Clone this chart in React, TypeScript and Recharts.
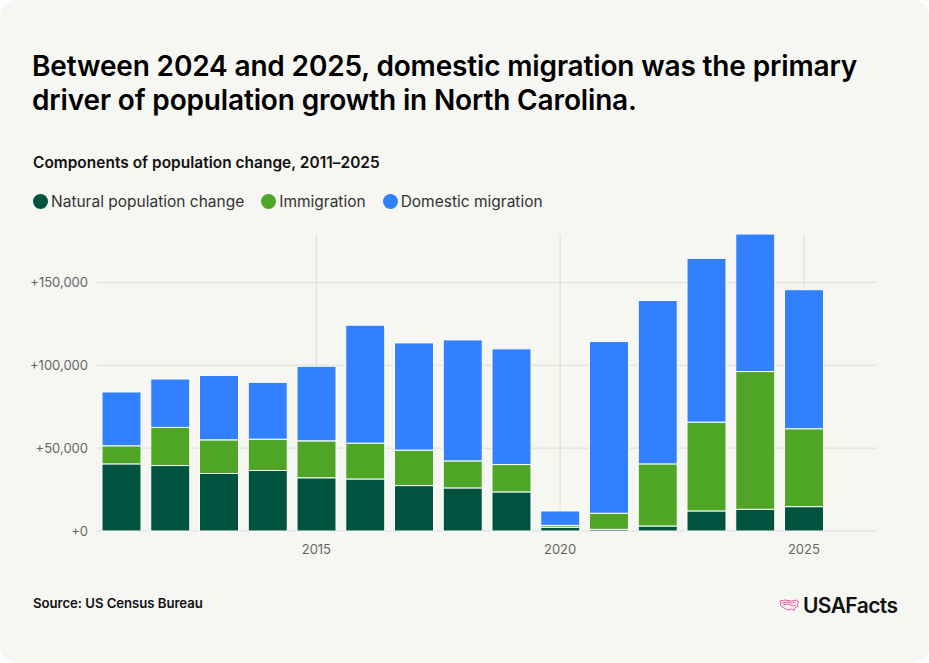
import { BarChart, Bar, XAxis, YAxis, CartesianGrid } from "recharts";

// Components of NC population change by year
const years = [2011, 2012, 2013, 2014, 2015, 2016, 2017, 2018, 2019, 2020, 2021, 2022, 2023, 2024, 2025];
const naturalChange = [40500, 39500, 34700, 36500, 32100, 31400, 27400, 26000, 23600, 2300, 1000, 3000, 12100, 13100, 14700];
const immigration = [10900, 23000, 20300, 18900, 22300, 21600, 21400, 16300, 16500, 1100, 9700, 37500, 53600, 83100, 47000];
const domesticMigration = [32500, 29200, 38900, 34300, 45000, 71200, 64700, 73000, 69800, 8700, 103600, 98600, 98800, 83000, 83900];

const yTicks = [0, 50000, 100000, 150000];
const xTicks = [2015, 2020, 2025];

const COLORS = {
  natural: "#00533f",
  immigration: "#4fa626",
  domestic: "#3380ff",
};

const FONT = "Inter, 'Noto Sans', sans-serif";

const data = years.map((year, i) => ({
  year,
  natural: naturalChange[i],
  immigration: immigration[i],
  domestic: domesticMigration[i],
}));

const legendItems = [
  { label: "Natural population change", color: COLORS.natural },
  { label: "Immigration", color: COLORS.immigration },
  { label: "Domestic migration", color: COLORS.domestic },
];

function formatTick(v: number) {
  return `+${v.toLocaleString("en-US")}`;
}

function Logo() {
  return (
    <div style={{ position: "absolute", left: 779, top: 593, display: "flex", alignItems: "center", gap: 2 }}>
      <svg width="22" height="16" viewBox="0 0 22 16" fill="none" stroke="#ec5fa0" strokeWidth={1}>
        <path d="M1 3 L6 2 L12 3 L17 2 L20 4 L18 6 L19 8 L16 10 L15 13 L13 11 L9 12 L5 10 L2 8 Z" />
        <path d="M3 5 L8 4 L13 5 L17 4" />
        <path d="M4 7 L9 6 L14 8 L17 7" />
      </svg>
      <span style={{ fontFamily: FONT, fontWeight: 600, fontSize: 21, color: "#111", letterSpacing: -0.6 }}>
        USAFacts
      </span>
    </div>
  );
}

export default function App() {
  return (
    <div
      style={{
        position: "absolute",
        left: 0,
        top: 0,
        width: 929,
        height: 663,
        background: "#ffffff",
      }}
    >
      <div
        style={{
          position: "absolute",
          left: 0,
          top: 0,
          width: 929,
          height: 663,
          background: "#f6f6f2",
          borderRadius: 16,
          fontFamily: FONT,
          overflow: "hidden",
        }}
      >
        <div
          style={{
            position: "absolute",
            left: 32,
            top: 49,
            width: 890,
            fontSize: 28,
            fontWeight: 600,
            lineHeight: "34px",
            letterSpacing: -0.15,
            color: "#000",
          }}
        >
          Between 2024 and 2025, domestic migration was the primary
          <br />
          driver of population growth in North Carolina.
        </div>

        <div
          style={{
            position: "absolute",
            left: 33,
            top: 153,
            fontSize: 15.4,
            fontWeight: 600,
            color: "#111",
            letterSpacing: 0.05,
          }}
        >
          Components of population change, 2011–2025
        </div>

        <div style={{ position: "absolute", left: 33, top: 192, display: "flex", alignItems: "center" }}>
          {legendItems.map((item) => (
            <div key={item.label} style={{ display: "flex", alignItems: "center", marginRight: 17 }}>
              <span
                style={{
                  width: 15,
                  height: 15,
                  borderRadius: "50%",
                  background: item.color,
                  display: "inline-block",
                  marginRight: 3,
                }}
              />
              <span style={{ fontSize: 15.5, color: "#333", letterSpacing: 0 }}>{item.label}</span>
            </div>
          ))}
        </div>

        <div style={{ position: "absolute", left: 0, top: 220 }}>
          <BarChart
            width={929}
            height={350}
            data={data}
            margin={{ top: 14, right: 52, bottom: 9, left: 0 }}
            barSize={39}
          >
            <CartesianGrid stroke="#dcdcd8" strokeWidth={1} syncWithTicks />
            <XAxis
              dataKey="year"
              type="number"
              domain={[2010.5, 2026.5]}
              ticks={xTicks}
              axisLine={false}
              tickLine={false}
              tickSize={0}
              tickMargin={14}
              height={30}
              tick={{ fill: "#666", fontSize: 13, fontFamily: FONT }}
            />
            <YAxis
              domain={[0, "dataMax"]}
              ticks={yTicks}
              width={97}
              axisLine={false}
              tickLine={false}
              tickSize={0}
              tickMargin={9}
              tickFormatter={formatTick}
              tick={{ fill: "#666", fontSize: 13, fontFamily: FONT }}
            />
            <Bar dataKey="natural" stackId="a" fill={COLORS.natural} stroke="#ffffff" strokeWidth={1} isAnimationActive={false} />
            <Bar dataKey="immigration" stackId="a" fill={COLORS.immigration} stroke="#ffffff" strokeWidth={1} isAnimationActive={false} />
            <Bar dataKey="domestic" stackId="a" fill={COLORS.domestic} stroke="#ffffff" strokeWidth={1} isAnimationActive={false} />
          </BarChart>
        </div>

        <div
          style={{
            position: "absolute",
            left: 33,
            top: 595,
            fontSize: 13.2,
            fontWeight: 600,
            color: "#111",
            letterSpacing: -0.05,
          }}
        >
          Source: US Census Bureau
        </div>

        <Logo />
      </div>
    </div>
  );
}
